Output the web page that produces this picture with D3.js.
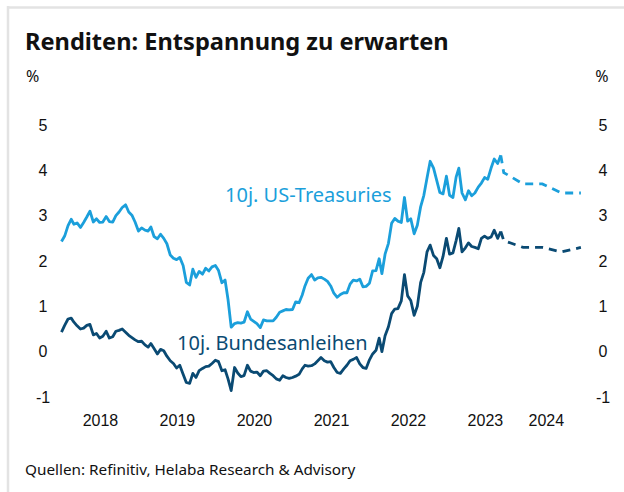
<!DOCTYPE html>
<html>
<head>
<meta charset="utf-8">
<script src="https://cdn.jsdelivr.net/npm/d3@7"></script>
<style>
  body { margin: 0; background: #fff; }
  svg { display: block; font-family: "Noto Sans", sans-serif; }
  .tick text { font-size: 16px; fill: #111; }
</style>
</head>
<body>
<svg id="chart" width="624" height="492"></svg>
<script>
// half-monthly samples (1st and 16th), Jan 2018 - Sep 2023
var startMonth = "2018-01", endMonth = "2023-10";
var usYield = [
  2.43,2.55, 2.78,2.92, 2.81,2.84, 2.74,2.85, 2.97,3.10, 2.86,2.93, 2.85,2.86, 2.98,2.87, 2.86,3.00, 3.08,3.18, 3.24,3.08, 3.01,2.86,
  2.66,2.73, 2.68,2.66, 2.75,2.54, 2.49,2.59, 2.50,2.38, 2.13,2.06, 2.03,2.08, 1.90,1.53, 1.47,1.82, 1.64,1.77, 1.71,1.84, 1.78,1.87,
  1.90,1.79, 1.52,1.58, 1.15,0.54, 0.62,0.64, 0.63,0.65, 0.88,0.72, 0.67,0.62, 0.53,0.70, 0.68,0.68, 0.68,0.76, 0.87,0.90, 0.93,0.92,
  0.93,1.10, 1.08,1.25, 1.45,1.62, 1.70,1.58, 1.63,1.64, 1.60,1.55, 1.45,1.29, 1.20,1.26, 1.30,1.30, 1.49,1.58, 1.56,1.60, 1.43,1.44,
  1.51,1.78, 1.79,2.05, 1.72,2.15, 2.39,2.83, 2.94,2.88, 2.85,3.40, 2.88,2.93, 2.60,2.79, 3.20,3.45, 3.83,4.20, 4.05,3.78, 3.51,3.48,
  3.87,3.45, 3.40,3.85, 4.05,3.50, 3.35,3.55, 3.44,3.50, 3.63,3.72, 3.84,3.80, 4.05,4.25, 4.15,4.33
];
var bundYield = [
  0.43,0.58, 0.72,0.74, 0.65,0.57, 0.50,0.52, 0.58,0.60, 0.37,0.40, 0.30,0.34, 0.45,0.30, 0.33,0.45, 0.47,0.50, 0.43,0.36, 0.31,0.26,
  0.22,0.23, 0.15,0.10, 0.18,0.07, -0.05,0.05, 0.02,-0.10, -0.20,-0.26, -0.36,-0.30, -0.50,-0.68, -0.70,-0.48, -0.57,-0.42, -0.37,-0.33, -0.32,-0.26,
  -0.19,-0.22, -0.42,-0.40, -0.60,-0.86, -0.35,-0.47, -0.55,-0.53, -0.30,-0.43, -0.46,-0.45, -0.53,-0.43, -0.42,-0.48, -0.53,-0.60, -0.63,-0.53, -0.57,-0.59,
  -0.57,-0.54, -0.50,-0.38, -0.30,-0.32, -0.31,-0.27, -0.20,-0.13, -0.20,-0.23, -0.22,-0.35, -0.46,-0.48, -0.38,-0.30, -0.20,-0.17, -0.13,-0.27, -0.35,-0.37,
  -0.18,-0.05, 0.03,0.30, 0.00,0.35, 0.55,0.84, 0.94,0.95, 1.12,1.70, 1.23,1.13, 0.80,1.00, 1.53,1.75, 2.20,2.35, 2.12,2.05, 1.85,2.10,
  2.50,2.15, 2.18,2.45, 2.72,2.20, 2.29,2.40, 2.32,2.30, 2.27,2.50, 2.55,2.50, 2.53,2.68, 2.50,2.65
];

// Helaba forecasts, end of quarter
var forecastDates = ["2023-09-30", "2023-12-31", "2024-03-31", "2024-06-30", "2024-09-30"];
var usForecast = [3.95, 3.70, 3.70, 3.50, 3.50];
var bundForecast = [2.45, 2.30, 2.30, 2.20, 2.30];

var years = [2018, 2019, 2020, 2021, 2022, 2023, 2024];
var yTicks = [-1, 0, 1, 2, 3, 4, 5];

var parse = d3.timeParse("%Y-%m-%d");
var parseMonth = d3.timeParse("%Y-%m");

var dates = [];
d3.timeMonth.range(parseMonth(startMonth), parseMonth(endMonth)).forEach(function(m) {
  dates.push(m, d3.timeDay.offset(m, 15));
});

var svg = d3.select("#chart");

// frame
svg.append("line").attr("x1", 7).attr("x2", 624).attr("y1", 7.5).attr("y2", 7.5)
  .attr("stroke", "#e3e3e3").attr("stroke-width", 2.5);
svg.append("line").attr("x1", 8).attr("x2", 8).attr("y1", 6).attr("y2", 492)
  .attr("stroke", "#e3e3e3").attr("stroke-width", 2.5);

svg.append("text").attr("x", 25).attr("y", 50)
  .style("font-size", "23.6px").style("font-weight", "bold").style("fill", "#111")
  .text("Renditen: Entspannung zu erwarten");

svg.append("text").attr("x", 26).attr("y", 82).style("font-size", "16px").style("fill", "#111").text("%");
svg.append("text").attr("x", 602).attr("y", 82).attr("text-anchor", "middle")
  .style("font-size", "16px").style("fill", "#111").text("%");

var axisEnd = parse("2024-08-01");
var x = d3.scaleTime()
  .domain([parse("2018-01-01"), parse("2025-01-01")])
  .range([61.5, 600.5]);
var y = d3.scaleLinear().domain([-1, 5]).range([397, 125]);

// year labels centred in the visible part of each year
var yearCenters = years.map(function(yr) {
  var a = new Date(yr, 0, 1), b = new Date(yr + 1, 0, 1);
  if (b > axisEnd) b = axisEnd;
  return new Date((+a + +b) / 2);
});

var xAxis = svg.append("g").attr("transform", "translate(0,412)")
  .call(d3.axisBottom(x).tickValues(yearCenters).tickSize(0)
    .tickFormat(function(d, i) { return years[i]; }));
xAxis.select(".domain").remove();

var fmt = function(d) { return String(d); };

var yLeft = svg.append("g").attr("transform", "translate(51,0)")
  .call(d3.axisLeft(y).tickValues(yTicks).tickSize(0).tickFormat(fmt));
yLeft.select(".domain").remove();
yLeft.selectAll("text").attr("text-anchor", "middle").attr("x", -8);

var yRight = svg.append("g").attr("transform", "translate(595,0)")
  .call(d3.axisRight(y).tickValues(yTicks).tickSize(0).tickFormat(fmt));
yRight.select(".domain").remove();
yRight.selectAll("text").attr("text-anchor", "middle").attr("x", 8);

var line = d3.line()
  .x(function(d) { return x(d[0]); })
  .y(function(d) { return y(d[1]); });

var series = [
  { hist: usYield, fc: usForecast, color: "#1b9fdb" },
  { hist: bundYield, fc: bundForecast, color: "#0a4a73" }
];

series.forEach(function(s) {
  var hist = dates.map(function(d, i) { return [d, s.hist[i]]; });
  var fc = [hist[hist.length - 1]].concat(forecastDates.map(function(d, i) {
    return [parse(d), s.fc[i]];
  }));
  svg.append("path").datum(hist).attr("d", line)
    .attr("fill", "none").attr("stroke", s.color).attr("stroke-width", 2.8)
    .attr("stroke-linejoin", "round");
  svg.append("path").datum(fc).attr("d", line)
    .attr("fill", "none").attr("stroke", s.color).attr("stroke-width", 2.8)
    .attr("stroke-dasharray", "8,6");
});

svg.append("text").attr("x", 225).attr("y", 202)
  .style("font-size", "20px").style("fill", "#1b9fdb").text("10j. US-Treasuries");
svg.append("text").attr("x", 177).attr("y", 350)
  .style("font-size", "20px").style("fill", "#0a4a73").text("10j. Bundesanleihen");

svg.append("text").attr("x", 25).attr("y", 475)
  .style("font-size", "15.3px").style("fill", "#111")
  .text("Quellen: Refinitiv, Helaba Research & Advisory");
</script>
</body>
</html>
